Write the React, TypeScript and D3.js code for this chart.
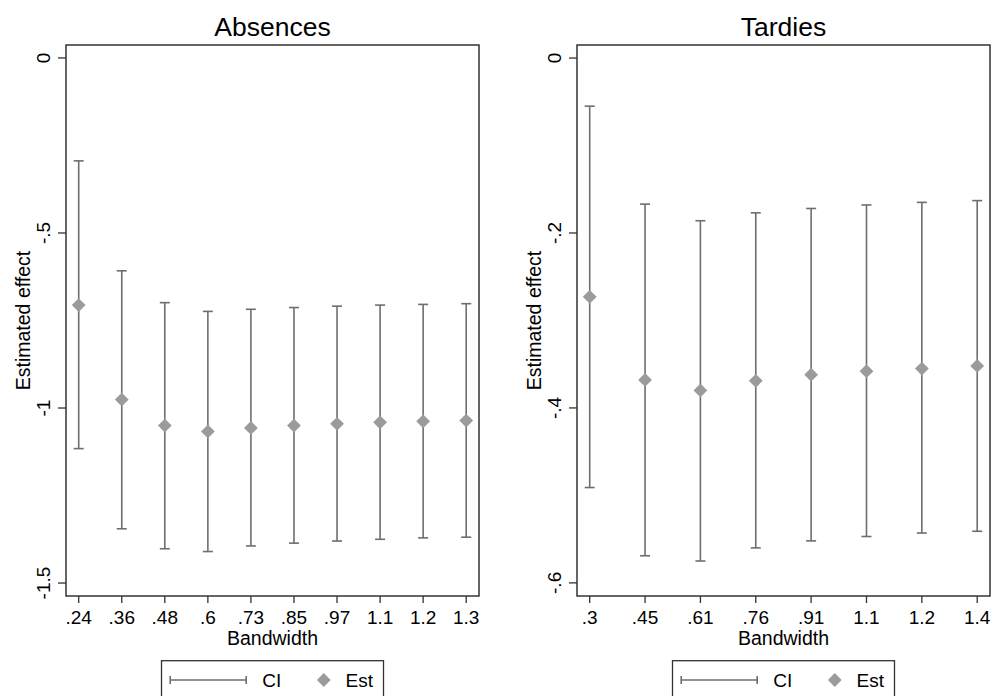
import React from 'react';
import * as d3 from 'd3';

// Absences panel
const absBandwidth = ['.24', '.36', '.48', '.6', '.73', '.85', '.97', '1.1', '1.2', '1.3'];
const absEst = [-0.706, -0.976, -1.05, -1.067, -1.057, -1.05, -1.045, -1.041, -1.038, -1.036];
const absLo = [-1.116, -1.345, -1.402, -1.41, -1.394, -1.386, -1.38, -1.375, -1.371, -1.369];
const absHi = [-0.294, -0.608, -0.699, -0.724, -0.718, -0.713, -0.709, -0.706, -0.704, -0.702];
const absTicks = [0, -0.5, -1, -1.5];
const absTickLabels = ['0', '-.5', '-1', '-1.5'];

// Tardies panel
const tarBandwidth = ['.3', '.45', '.61', '.76', '.91', '1.1', '1.2', '1.4'];
const tarEst = [-0.273, -0.368, -0.38, -0.369, -0.362, -0.358, -0.355, -0.352];
const tarLo = [-0.491, -0.569, -0.575, -0.56, -0.552, -0.547, -0.543, -0.541];
const tarHi = [-0.055, -0.167, -0.186, -0.177, -0.172, -0.168, -0.165, -0.163];
const tarTicks = [0, -0.2, -0.4, -0.6];
const tarTickLabels = ['0', '-.2', '-.4', '-.6'];

const FONT = '"Liberation Sans", Arial, Helvetica, sans-serif';
const BAR = '#6e6e6e';
const DOT = '#9b9b9b';
const FRAME = '#333';

const top = 45;
const bottom = 596;

function Panel(props: {
  title: string;
  x0: number;
  x1: number;
  cats: string[];
  est: number[];
  lo: number[];
  hi: number[];
  ticks: number[];
  tickLabels: string[];
  domain: [number, number];
}) {
  const { title, x0, x1, cats, est, lo, hi, ticks, tickLabels, domain } = props;
  const x = d3.scalePoint<string>().domain(cats).range([x0 + 12.7, x1 - 12.8]);
  const y = d3.scaleLinear().domain(domain).range([bottom, top]);
  const cx = (x0 + x1) / 2;
  const diamond = d3.symbol(d3.symbolSquare, 95);
  const legLeft = cx - 111;

  return (
    <g fontFamily={FONT}>
      <text x={cx} y={36} textAnchor="middle" fontSize={26.5}>{title}</text>

      {/* error bars */}
      {cats.map((c, i) => (
        <g key={c} stroke={BAR} strokeWidth={1.6}>
          <line x1={x(c)} x2={x(c)} y1={y(hi[i])} y2={y(lo[i])} />
          <line x1={x(c)! - 5} x2={x(c)! + 5} y1={y(hi[i])} y2={y(hi[i])} />
          <line x1={x(c)! - 5} x2={x(c)! + 5} y1={y(lo[i])} y2={y(lo[i])} />
        </g>
      ))}
      {cats.map((c, i) => (
        <path key={c} d={diamond()!} fill={DOT}
          transform={`translate(${x(c)},${y(est[i])}) rotate(45)`} />
      ))}

      {/* frame */}
      <rect x={x0} y={top} width={x1 - x0} height={bottom - top} fill="none" stroke={FRAME} strokeWidth={1.5} />

      {/* y axis */}
      {ticks.map((t, i) => (
        <g key={t}>
          <line x1={x0 - 8} x2={x0} y1={y(t)} y2={y(t)} stroke={FRAME} strokeWidth={1.3} />
          <text transform={`translate(${x0 - 16},${y(t)}) rotate(-90)`} textAnchor="middle" fontSize={19}>
            {tickLabels[i]}
          </text>
        </g>
      ))}
      <text transform={`translate(${x0 - 36},${(top + bottom) / 2}) rotate(-90)`} textAnchor="middle" fontSize={19.5}>
        Estimated effect
      </text>

      {/* x axis */}
      {cats.map(c => (
        <g key={c}>
          <line x1={x(c)} x2={x(c)} y1={bottom} y2={bottom + 7} stroke={FRAME} strokeWidth={1.3} />
          <text x={x(c)} y={623.5} textAnchor="middle" fontSize={19}>{c}</text>
        </g>
      ))}
      <text x={cx} y={645} textAnchor="middle" fontSize={19.5}>Bandwidth</text>

      {/* legend */}
      <rect x={legLeft} y={660.7} width={222} height={60} fill="none" stroke={FRAME} strokeWidth={1.3} />
      <g stroke={BAR} strokeWidth={1.6}>
        <line x1={legLeft + 8.7} x2={legLeft + 84.7} y1={680} y2={680} />
        <line x1={legLeft + 8.7} x2={legLeft + 8.7} y1={676} y2={684} />
        <line x1={legLeft + 84.7} x2={legLeft + 84.7} y1={676} y2={684} />
      </g>
      <text x={legLeft + 100.7} y={687} fontSize={19}>CI</text>
      <path d={diamond()!} fill={DOT} transform={`translate(${legLeft + 162.3},680) rotate(45)`} />
      <text x={legLeft + 184} y={687} fontSize={19}>Est</text>
    </g>
  );
}

export default function App() {
  return (
    <svg width={995} height={696} style={{ position: 'absolute', left: 0, top: 0, background: '#fff' }}>
      <rect width={995} height={696} fill="#fff" />
      <Panel title="Absences" x0={66} x1={479} cats={absBandwidth} est={absEst} lo={absLo} hi={absHi}
        ticks={absTicks} tickLabels={absTickLabels} domain={[-1.537, 0.037]} />
      <Panel title="Tardies" x0={577} x1={990} cats={tarBandwidth} est={tarEst} lo={tarLo} hi={tarHi}
        ticks={tarTicks} tickLabels={tarTickLabels} domain={[-0.615, 0.0149]} />
    </svg>
  );
}
